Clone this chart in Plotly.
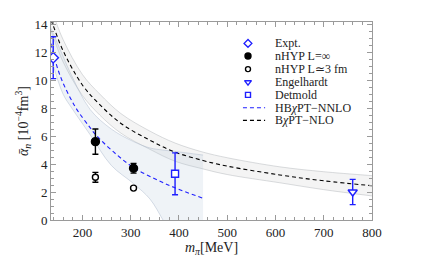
import plotly.graph_objects as go

# ---------------- data ----------------
# Experimental value
expt_x = [139.6]
expt_y = [11.6]
expt_err = [1.5]

# nHYP L=inf (filled)
nhyp_inf_x = [227, 306]
nhyp_inf_y = [5.6, 3.7]
nhyp_inf_err = [0.9, 0.35]

# nHYP L~3 fm (open)
nhyp_3_x = [227, 306]
nhyp_3_y = [3.05, 2.28]
nhyp_3_err = [0.35, 0.08]

# Engelhardt
eng_x = [760]
eng_y = [2.0]
eng_err = [0.9]

# Detmold
det_x = [392]
det_y = [3.3]
det_err = [1.5]

# HBChPT-NNLO curve and band
hb_x = [135, 154, 185, 216, 230, 270, 306, 350, 392, 450]
hb_y = [12.6, 10.3, 8.1, 6.6, 6.0, 4.7, 3.75, 2.95, 2.3, 1.55]
hb_band_x = [135, 160, 178, 216, 260, 306, 340, 367, 392, 450]
hb_upper = [13.7, 11.7, 10.3, 7.9, 6.5, 5.6, 5.15, 5.0, 4.9, 4.64]
hb_lower = [11.6, 9.0, 8.0, 6.1, 3.9, 2.6, 1.5, 0.0, -1.5, -4.5]

# BChPT-NLO curve and band
b_x = [135, 140, 160, 200, 236, 280, 340, 392, 450, 500, 609, 700, 800]
b_y = [14.3, 13.85, 12.1, 9.65, 8.25, 6.9, 5.7, 4.85, 4.25, 3.85, 3.22, 2.8, 2.45]
b_upper = [15.1, 14.65, 12.9, 10.4, 9.0, 7.6, 6.35, 5.5, 4.85, 4.45, 3.8, 3.45, 3.17]
b_lower = [13.5, 13.05, 11.3, 8.9, 7.5, 6.2, 5.05, 4.2, 3.65, 3.25, 2.66, 2.17, 1.72]

x_ticks = [200, 300, 400, 500, 600, 700, 800]
y_ticks = [0, 2, 4, 6, 8, 10, 12, 14]

legend_labels = ["Expt.", "nHYP L=∞", "nHYP L≃3 fm", "Engelhardt", "Detmold",
                 "HB<i>χ</i>PT−NNLO", "B<i>χ</i>PT−NLO"]

BLUE = "#1f1fff"
FONT = "Liberation Serif, Times New Roman, serif"
FRAME = "#9a9a9a"

fig = go.Figure()

# bands (lower edge, then upper edge filled to it)
fig.add_trace(go.Scatter(x=b_x, y=b_lower, mode="lines", line_shape="spline",
                         line=dict(color="rgba(170,175,180,0.55)", width=0.8),
                         showlegend=False, hoverinfo="skip"))
fig.add_trace(go.Scatter(x=b_x, y=b_upper, mode="lines", line_shape="spline", fill="tonexty",
                         fillcolor="rgba(200,200,200,0.2)",
                         line=dict(color="rgba(170,175,180,0.55)", width=0.8),
                         showlegend=False, hoverinfo="skip"))
fig.add_trace(go.Scatter(x=hb_band_x, y=hb_lower, mode="lines", line_shape="spline",
                         line=dict(color="rgba(165,180,200,0.55)", width=0.8),
                         showlegend=False, hoverinfo="skip"))
fig.add_trace(go.Scatter(x=hb_band_x, y=hb_upper, mode="lines", line_shape="spline", fill="tonexty",
                         fillcolor="rgba(175,195,215,0.2)",
                         line=dict(color="rgba(165,180,200,0.55)", width=0.8),
                         showlegend=False, hoverinfo="skip"))

# curves
fig.add_trace(go.Scatter(x=b_x, y=b_y, mode="lines", line_shape="spline",
                         line=dict(color="black", width=1.1, dash="4px,3px"), showlegend=False))
fig.add_trace(go.Scatter(x=hb_x, y=hb_y, mode="lines", line_shape="spline",
                         line=dict(color=BLUE, width=1.1, dash="4px,3px"), showlegend=False))

# points
def pts(x, y, err, sym, color, size, fill=None):
    return go.Scatter(
        x=x, y=y, mode="markers",
        marker=dict(symbol=sym, size=size, color=fill if fill else color,
                    line=dict(color=color, width=1.4)),
        error_y=dict(type="data", array=err, color=color, thickness=1.4, width=3),
        showlegend=False)

fig.add_trace(pts(expt_x, expt_y, expt_err, "diamond", BLUE, 8, "white"))
fig.add_trace(pts(nhyp_inf_x, nhyp_inf_y, nhyp_inf_err, "circle", "black", 8))
fig.add_trace(pts(nhyp_3_x, nhyp_3_y, nhyp_3_err, "circle", "black", 6, "white"))
fig.add_trace(pts(eng_x, eng_y, eng_err, "triangle-down", BLUE, 8, "white"))
fig.add_trace(pts(det_x, det_y, det_err, "square", BLUE, 7, "white"))

# ---------------- manual legend (overlay axes 0..1) ----------------
row_y = [0.892, 0.828, 0.762, 0.696, 0.632, 0.567, 0.503]
mx = 0.6137
leg_syms = [("diamond", BLUE, "white", 6), ("circle", "black", "black", 6),
            ("circle", "black", "white", 5), ("triangle-down", BLUE, "white", 6),
            ("square", BLUE, "white", 5)]
for (sym, col, fc, sz), yy in zip(leg_syms, row_y[:5]):
    fig.add_trace(go.Scatter(x=[mx], y=[yy], xaxis="x2", yaxis="y2", mode="markers",
                             marker=dict(symbol=sym, size=sz, color=fc, line=dict(color=col, width=1.4)),
                             showlegend=False, hoverinfo="skip"))
for col, yy in [(BLUE, row_y[5]), ("black", row_y[6])]:
    fig.add_trace(go.Scatter(x=[0.598, 0.667], y=[yy, yy], xaxis="x2", yaxis="y2", mode="lines",
                             line=dict(color=col, width=1.1, dash="4px,3px"),
                             showlegend=False, hoverinfo="skip"))
for lab, yy in zip(legend_labels, row_y):
    fig.add_annotation(x=0.6916, y=yy, xref="paper", yref="paper", text=lab, showarrow=False,
                       xanchor="left", yanchor="middle", font=dict(family=FONT, size=12, color="#222"))

axis_common = dict(showline=True, linecolor=FRAME, linewidth=1, mirror="ticks",
                   ticks="inside", ticklen=5, tickcolor=FRAME, showgrid=False, zeroline=False,
                   automargin=False,
                   tickfont=dict(family=FONT, size=13, color="#222"))

# the page body adds an 8 px offset, so the figure is 8 px smaller on each axis
fig.update_layout(
    width=420, height=259,
    margin=dict(l=43, r=56, t=14, b=47),
    paper_bgcolor="white", plot_bgcolor="white",
    showlegend=False,
    font=dict(family=FONT),
    xaxis=dict(range=[135, 800], tickvals=x_ticks,
               minor=dict(ticks="inside", dtick=20, tick0=0, ticklen=3, tickcolor=FRAME),
               title=dict(text="<i>m</i><sub><i>π</i></sub>[MeV]", font=dict(family=FONT, size=14, color="#222"),
                          standoff=3),
               **axis_common),
    yaxis=dict(range=[0, 14.15], tickvals=y_ticks,
               minor=dict(ticks="inside", dtick=0.5, tick0=0, ticklen=3, tickcolor=FRAME),
               title=dict(text="<i>ᾱ</i><sub><i>n</i></sub> [10<sup>−4</sup>fm<sup>3</sup>]",
                          font=dict(family=FONT, size=14, color="#222"), standoff=2),
               **axis_common),
    xaxis2=dict(overlaying="x", range=[0, 1], visible=False),
    yaxis2=dict(overlaying="y", range=[0, 1], visible=False),
)

fig.write_html("out.html")
